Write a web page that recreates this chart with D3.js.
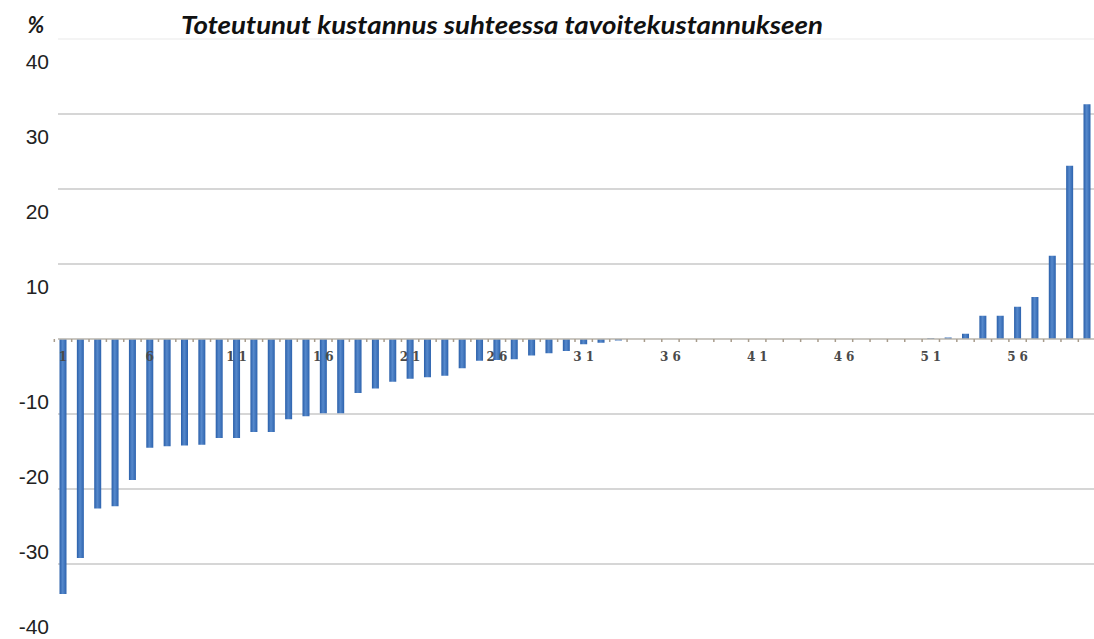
<!DOCTYPE html>
<html>
<head>
<meta charset="utf-8">
<script src="https://cdn.jsdelivr.net/npm/d3@7"></script>
<style>
  html, body { margin: 0; padding: 0; background: #fff; }
  svg { display: block; }
</style>
</head>
<body>
<svg id="chart" width="1094" height="639"></svg>
<script>
// Realised cost relative to target cost, per project (%)
const categories = d3.range(1, 61);
const values = [
  -34.0, -29.2, -22.6, -22.3, -18.8, -14.5, -14.3, -14.2, -14.1, -13.2,
  -13.2, -12.4, -12.4, -10.7, -10.3, -9.9, -9.9, -7.2, -6.6, -5.7,
  -5.3, -5.1, -4.9, -3.9, -2.9, -2.8, -2.7, -2.2, -1.9, -1.6,
  -0.7, -0.5, -0.2, 0, 0, 0, 0, 0, 0, 0,
  0, 0, 0, 0, 0, 0, 0, 0, 0, 0,
  0.1, 0.2, 0.7, 3.1, 3.1, 4.3, 5.6, 11.1, 23.1, 31.3
];
const yTicks = [40, 30, 20, 10, -10, -20, -30, -40];
const xTickLabels = [1, 6, 11, 16, 21, 26, 31, 36, 41, 46, 51, 56];
const titleText = "Toteutunut kustannus suhteessa tavoitekustannukseen";
const unitText = "%";

const data = categories.map((c, i) => ({ cat: c, value: values[i] }));

const svg = d3.select("#chart");
const plotLeft = 58, plotRight = 1094;

const x = d3.scaleLinear().domain([1, 60]).range([63, 1087]);
const barWidth = 7;
const y = d3.scaleLinear().domain([-40, 40]).range([639, 39]);

// Bar gradient: darker edges, lighter centre
const defs = svg.append("defs");
const grad = defs.append("linearGradient").attr("id", "barGrad")
  .attr("x1", "0%").attr("x2", "100%").attr("y1", "0%").attr("y2", "0%");
grad.append("stop").attr("offset", "0%").attr("stop-color", "#2a5fa9");
grad.append("stop").attr("offset", "45%").attr("stop-color", "#5689cc");
grad.append("stop").attr("offset", "100%").attr("stop-color", "#2d63ae");

// Horizontal gridlines
svg.append("g").selectAll("line")
  .data([30, 20, 10, -10, -20, -30])
  .join("line")
  .attr("x1", plotLeft).attr("x2", plotRight)
  .attr("y1", d => y(d)).attr("y2", d => y(d))
  .attr("stroke", "#d6d6d6").attr("stroke-width", 2);
svg.append("line")
  .attr("x1", plotLeft).attr("x2", plotRight)
  .attr("y1", y(40)).attr("y2", y(40))
  .attr("stroke", "#f4f4f4").attr("stroke-width", 2);

// Bars
svg.append("g").selectAll("rect")
  .data(data.filter(d => d.value !== 0))
  .join("rect")
  .attr("x", d => x(d.cat) - barWidth / 2)
  .attr("width", barWidth)
  .attr("y", d => Math.min(y(d.value), y(0)))
  .attr("height", d => Math.abs(y(d.value) - y(0)))
  .attr("fill", "url(#barGrad)");

// Zero axis with small category ticks
svg.append("line")
  .attr("x1", plotLeft).attr("x2", plotRight)
  .attr("y1", y(0)).attr("y2", y(0))
  .attr("stroke", "#b9b4ad").attr("stroke-width", 1.5);
svg.append("g").selectAll("line")
  .data(d3.range(0.5, 60.5, 1))
  .join("line")
  .attr("x1", d => x(d)).attr("x2", d => x(d))
  .attr("y1", y(0)).attr("y2", y(0) + 3)
  .attr("stroke", "#a89c8c").attr("stroke-width", 1.5);

// Category labels along the zero line
const xLabelSpacing = 4;
svg.append("g").selectAll("text")
  .data(xTickLabels)
  .join("text")
  .attr("x", d => x(d) + xLabelSpacing / 2)
  .attr("y", y(0) + 22)
  .attr("text-anchor", "middle")
  .attr("font-family", "'DejaVu Serif', serif")
  .attr("font-weight", "bold")
  .attr("font-size", 12)
  .attr("letter-spacing", xLabelSpacing)
  .attr("fill", "#4a4a4a")
  .text(d => d);

// Y tick labels (placed beside their gridlines)
svg.append("g").selectAll("text")
  .data(yTicks)
  .join("text")
  .attr("x", 49)
  .attr("y", d => y(d) + (d > 0 ? 22 : -13))
  .attr("dy", "0.36em")
  .attr("text-anchor", "end")
  .attr("font-family", "'Liberation Sans', Arial, sans-serif")
  .attr("font-size", 21)
  .attr("fill", "#222")
  .text(d => d);

// Unit label and title
svg.append("text")
  .attr("x", 36).attr("y", 33)
  .attr("text-anchor", "middle")
  .attr("font-family", "Lato, sans-serif")
  .attr("font-weight", "bold").attr("font-style", "italic")
  .attr("font-size", 22)
  .attr("fill", "#1a1a1a")
  .text(unitText);

svg.append("text")
  .attr("x", 181).attr("y", 34)
  .attr("font-family", "Lato, sans-serif")
  .attr("font-weight", "bold").attr("font-style", "italic")
  .attr("font-size", 25)
  .attr("textLength", 642)
  .attr("lengthAdjust", "spacingAndGlyphs")
  .attr("fill", "#111")
  .text(titleText);
</script>
</body>
</html>
